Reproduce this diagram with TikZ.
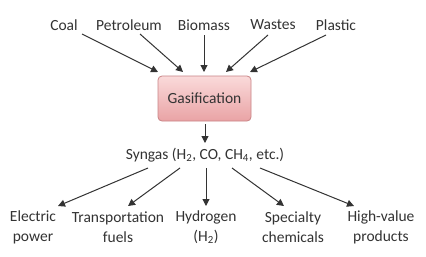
\documentclass[tikz,border=0pt]{standalone}
\usepackage{fontspec}
\setmainfont{Carlito}
\usetikzlibrary{arrows.meta}
\definecolor{txt}{HTML}{333333}
\definecolor{boxtop}{HTML}{FADADA}
\definecolor{boxbot}{HTML}{E9A3A5}
\definecolor{boxline}{HTML}{C98486}
\tikzset{
  lbl/.style={text=txt, font=\fontsize{15.5}{20}\selectfont, inner sep=0pt, align=center},
  arr/.style={draw=txt, line width=1pt, -{Triangle[length=7pt,width=7pt]}},
  procbox/.style={draw=boxline, line width=0.8pt, rounded corners=4pt, top color=boxtop, bottom color=boxbot, minimum width=93pt, minimum height=45pt, text=txt, font=\fontsize{15.5}{18}\selectfont}
}
\begin{document}
\begin{tikzpicture}[x=1pt,y=-1pt]
\useasboundingbox[fill=white] (0,0) rectangle (426,257);
\node[lbl] (coal) at (64,25) {Coal};
\node[lbl] (pet) at (129,25) {Petroleum};
\node[lbl] (bio) at (204,25) {Biomass};
\node[lbl] (was) at (273,25) {Wastes};
\node[lbl] (pla) at (336,25) {Plastic};
\node[procbox] (gas) at (204.5,98.5) {Gasification};
\node[lbl] (syn) at (205,155) {Syngas (H\textsubscript{2}, CO, CH\textsubscript{4}, etc.)};
\node[lbl] (ele) at (33,227) {Electric\\power};
\node[lbl] (tra) at (118,227) {Transportation\\fuels};
\node[lbl] (hyd) at (206,227) {Hydrogen\\(H\textsubscript{2})};
\node[lbl] (spe) at (293,227) {Specialty\\chemicals};
\node[lbl] (hig) at (381,227) {High-value\\products};
% connector end points
\coordinate (c1) at (82,34);   \coordinate (g1) at (158,72);
\coordinate (c2) at (140,34);  \coordinate (g2) at (183,72);
\coordinate (c3) at (204,35);  \coordinate (g3) at (204,72);
\coordinate (c4) at (268,35);  \coordinate (g4) at (226,72);
\coordinate (c5) at (326,35);  \coordinate (g5) at (250,72);
\coordinate (gb) at (205,124); \coordinate (st) at (205,143);
\coordinate (s1) at (148,168); \coordinate (e1) at (58,206);
\coordinate (s2) at (180,168); \coordinate (e2) at (128,206);
\coordinate (s3) at (206,168); \coordinate (e3) at (206,206);
\coordinate (s4) at (232,168); \coordinate (e4) at (284,206);
\coordinate (s5) at (260,168); \coordinate (e5) at (354,206);
\draw[arr] (c1) -- (g1);
\draw[arr] (c2) -- (g2);
\draw[arr] (c3) -- (g3);
\draw[arr] (c4) -- (g4);
\draw[arr] (c5) -- (g5);
\draw[arr] (gb) -- (st);
\draw[arr] (s1) -- (e1);
\draw[arr] (s2) -- (e2);
\draw[arr] (s3) -- (e3);
\draw[arr] (s4) -- (e4);
\draw[arr] (s5) -- (e5);
\end{tikzpicture}
\end{document}
